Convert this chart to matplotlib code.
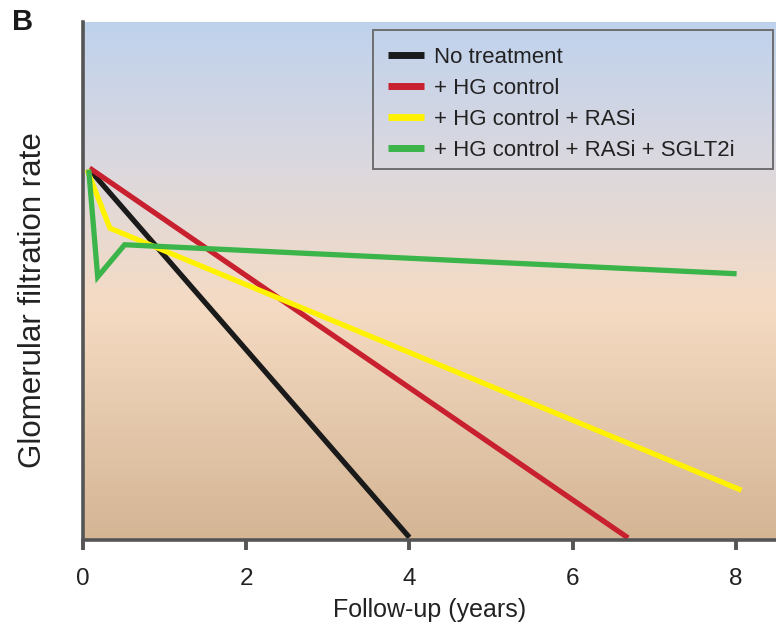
import numpy as np
import matplotlib
matplotlib.use("Agg")
import matplotlib.pyplot as plt
from matplotlib.colors import LinearSegmentedColormap
from matplotlib.patches import Rectangle

plt.rcParams['font.family'] = ['Liberation Sans', 'DejaVu Sans']

# Follow-up time (years) and relative GFR for each treatment scenario
x_none = [0.08, 4.0]
y_none = [71.5, 0.5]

x_hg = [0.08, 6.68]
y_hg = [71.8, 0.4]

x_rasi = [0.05, 0.33, 8.07]
y_rasi = [71.5, 60.2, 9.6]

x_sglt2 = [0.07, 0.18, 0.51, 8.01]
y_sglt2 = [71.5, 50.8, 57.0, 51.4]

labels = ["No treatment", "+ HG control", "+ HG control + RASi",
          "+ HG control + RASi + SGLT2i"]
colors = ["#1a1a1a", "#c8202e", "#fff200", "#3bb54a"]
xticks = [0, 2, 4, 6, 8]

W, H = 776, 623
fig = plt.figure(figsize=(W / 100, H / 100), dpi=100)
ax = fig.add_axes([83 / W, (H - 540) / H, (W - 83) / W, (540 - 22) / H])

xmax = (W - 83) / 81.6
ax.set_xlim(0, xmax)
ax.set_ylim(0, 100)

# vertical background gradient: blue at top, peach in the middle, tan at the bottom
cmap = LinearSegmentedColormap.from_list(
    "bg", [(0.0, "#d4b594"), (0.45, "#f5dbc3"), (0.72, "#dcd8de"), (1.0, "#bfd2ec")])
grad = np.linspace(0, 1, 256).reshape(-1, 1)
ax.imshow(grad, cmap=cmap, origin="lower", aspect="auto",
          extent=[0, xmax, 0, 100], zorder=0)

lw = 3.8
for xs, ys, c, lab in zip([x_none, x_hg, x_rasi, x_sglt2],
                          [y_none, y_hg, y_rasi, y_sglt2], colors, labels):
    ax.plot(xs, ys, color=c, lw=lw, label=lab, solid_joinstyle="miter",
            solid_capstyle="butt", zorder=3)

for s in ["top", "right"]:
    ax.spines[s].set_visible(False)
for s in ["left", "bottom"]:
    ax.spines[s].set_color("#555555")
    ax.spines[s].set_linewidth(2.6)
    ax.spines[s].set_zorder(4)

ax.set_xticks(xticks)
ax.set_xticklabels([str(t) for t in xticks])
ax.set_yticks([])
ax.tick_params(axis="x", direction="out", length=7, width=2.8, color="#555555",
               labelsize=17.5, pad=13, labelcolor="#222222")

ax.set_xlabel("Follow-up (years)", fontsize=18, color="#222222", labelpad=6)
ax.set_ylabel("Glomerular filtration rate", fontsize=22.5, color="#222222")
ax.yaxis.set_label_coords(-0.05, 0.463)

# legend entries without their own frame, boxed by a separate rectangle
leg = ax.legend(loc="upper left", bbox_to_anchor=(0.4401, 0.9517), fontsize=16,
                frameon=False, handlelength=1.6, handletextpad=0.45,
                borderpad=0, labelspacing=0.45, borderaxespad=0)
for line in leg.get_lines():
    line.set_linewidth(5)
for t in leg.get_texts():
    t.set_color("#222222")
ax.add_patch(Rectangle((0.4185, 0.7162), 0.9957 - 0.4185, 0.9846 - 0.7162,
                       transform=ax.transAxes, facecolor="none",
                       edgecolor="#6e6e6e", linewidth=1.4, zorder=5))

fig.text(12 / W, 1 - 22 / H, "B", fontsize=21, fontweight="bold",
         color="#1a1a1a", va="center", ha="left")

fig.savefig("out.png", dpi=100)
